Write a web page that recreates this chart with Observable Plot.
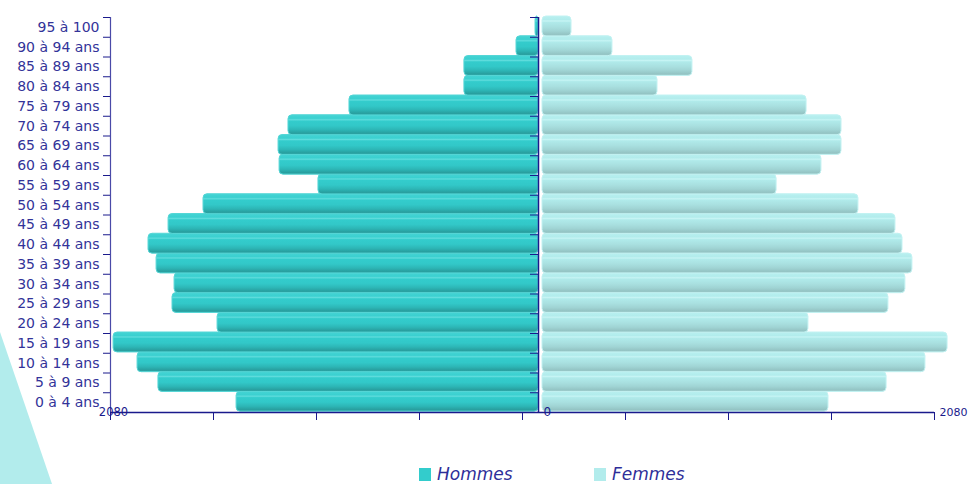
<!DOCTYPE html>
<html>
<head>
<meta charset="utf-8">
<script src="https://cdn.jsdelivr.net/npm/d3@7"></script>
<script src="https://cdn.jsdelivr.net/npm/@observablehq/plot@0.6"></script>
<style>
  html, body { margin: 0; padding: 0; background: #fff; }
  #wrap { position: relative; width: 968px; height: 484px; overflow: hidden; font-family: "DejaVu Sans", sans-serif; }
  #wrap svg { position: absolute; left: 0; top: 0; }
  #tri { position: absolute; left: 0; top: 332px; width: 52px; height: 152px; background: #b2ecec; clip-path: polygon(0 0, 100% 100%, 0 100%); }
  .leg { position: absolute; top: 463px; height: 22px; display: flex; align-items: center; font-style: italic; font-size: 17px; color: #2e2e99; }
  .leg span.sw { display: inline-block; width: 12px; height: 13px; margin-right: 6px; }
</style>
</head>
<body>
<div id="wrap">
  <div id="tri"></div>
</div>
<script>
// ---- data (bottom to top) ----
const ages = ["0 à 4 ans", "5 à 9 ans", "10 à 14 ans", "15 à 19 ans", "20 à 24 ans",
  "25 à 29 ans", "30 à 34 ans", "35 à 39 ans", "40 à 44 ans", "45 à 49 ans",
  "50 à 54 ans", "55 à 59 ans", "60 à 64 ans", "65 à 69 ans", "70 à 74 ans",
  "75 à 79 ans", "80 à 84 ans", "85 à 89 ans", "90 à 94 ans", "95 à 100"];
const hommes = [1470, 1848, 1949, 2065, 1562, 1780, 1770, 1857, 1896, 1799,
  1630, 1074, 1262, 1267, 1219, 924, 368, 368, 116, 24];
const femmes = [1393, 1674, 1862, 1969, 1296, 1683, 1765, 1799, 1751, 1717,
  1538, 1142, 1359, 1456, 1456, 1287, 566, 735, 348, 150];
const axisMax = 2080;
const xTicks = [-2080, -1560, -1040, -520, 0, 520, 1040, 1560, 2080];
const seriesNames = ["Hommes", "Femmes"];

const rows = ages.map((a, i) => ({age: a, i, h: hommes[i], f: femmes[i]}));
const bounds = d3.range(1, ages.length + 1);

const navy = "#1a1a8c";
const textCol = "#333399";
const W = 968, H = 440;

// ---- axis layer ----
const axisPlot = Plot.plot({
  width: W, height: H,
  marginLeft: 110, marginRight: 34, marginTop: 17, marginBottom: 28,
  style: {background: "transparent", overflow: "visible"},
  x: {domain: [-axisMax, axisMax], ticks: xTicks, tickSize: 8, tickFormat: () => "", label: null},
  y: {domain: [0, ages.length], axis: null},
  marks: [
    Plot.ruleX([-axisMax], {stroke: "#4a4aa8", strokeWidth: 1.2}),
    Plot.ruleY(bounds, {y: d => d, x1: -axisMax, x2: -axisMax, insetLeft: -7, stroke: navy}),
    Plot.ruleY([0], {x1: -axisMax, x2: axisMax, stroke: navy, strokeWidth: 1.3}),
    Plot.text([-axisMax], {x: d => d, y: 0, text: d => String(-d), dx: 3, fontSize: 11.5, fill: navy, fontFamily: "DejaVu Sans"}),
    Plot.text([axisMax], {x: d => d, y: 0, text: d => String(d), textAnchor: "start", dx: 5, fontSize: 11, fill: navy, fontFamily: "DejaVu Sans"})
  ]
});
axisPlot.style.color = navy;

// ---- bar layer ----
const barPlot = Plot.plot({
  width: W, height: H,
  marginLeft: 110, marginRight: 0, marginTop: 17, marginBottom: 28,
  style: {background: "transparent", overflow: "visible"},
  x: {domain: [-axisMax, axisMax], range: [110, 970], axis: null},
  y: {domain: [0, ages.length], axis: null},
  marks: [
    Plot.rect(rows, {x1: d => -d.h, x2: 0, y1: d => d.i, y2: d => d.i + 1,
      insetRight: 2, insetTop: -1, insetBottom: 0.8, rx: 4,
      fill: "url(#gradH)", stroke: "#55d6d6", strokeWidth: 1}),
    Plot.rect(rows, {x1: 0, x2: d => d.f, y1: d => d.i, y2: d => d.i + 1,
      insetLeft: 2, insetTop: -1, insetBottom: 0.8, rx: 4,
      fill: "url(#gradF)", stroke: "#c2f2f2", strokeWidth: 1}),
    Plot.ruleX([0], {dx: -2, stroke: navy, strokeWidth: 1.5}),
    Plot.ruleY(bounds, {y: d => d, x1: 0, x2: 0, insetLeft: -10, insetRight: 2, stroke: navy}),
    Plot.text(rows, {x: -axisMax, y: d => d.i + 0.5, text: "age", textAnchor: "end", dx: -11,
      fontSize: 14, fill: textCol, fontFamily: "DejaVu Sans"}),
    Plot.text([0], {x: d => d, y: 0, text: d => String(d), textAnchor: "start", dx: 3,
      fontSize: 12, fill: navy, fontFamily: "DejaVu Sans"})
  ]
});

const defs = d3.select(barPlot).insert("defs", ":first-child");
function grad(id, stops) {
  const g = defs.append("linearGradient").attr("id", id)
    .attr("x1", 0).attr("y1", 0).attr("x2", 0).attr("y2", 1);
  stops.forEach(([o, c]) => g.append("stop").attr("offset", o).attr("stop-color", c));
}
grad("gradH", [[0, "#45d4d4"], [0.18, "#3bd0d0"], [0.25, "#5edcdc"], [0.32, "#33cccc"], [0.55, "#32c8c8"], [0.75, "#2db6b6"], [0.92, "#289f9f"], [1, "#2fa8a8"]]);
grad("gradF", [[0, "#b8f0f0"], [0.18, "#b2ecec"], [0.25, "#c6f4f4"], [0.32, "#b0eaea"], [0.55, "#a9e0e0"], [0.75, "#a0d4d4"], [0.92, "#94c4c4"], [1, "#9ecccc"]]);

const wrap = document.getElementById("wrap");
wrap.appendChild(barPlot);
wrap.appendChild(axisPlot);

// ---- legend ----
const legCols = ["#33cccc", "#b2ecec"];
const legX = [419, 594];
seriesNames.forEach((n, k) => {
  const d = document.createElement("div");
  d.className = "leg";
  d.style.left = legX[k] + "px";
  d.innerHTML = `<span class="sw" style="background:${legCols[k]}"></span>${n}`;
  wrap.appendChild(d);
});
</script>
</body>
</html>
